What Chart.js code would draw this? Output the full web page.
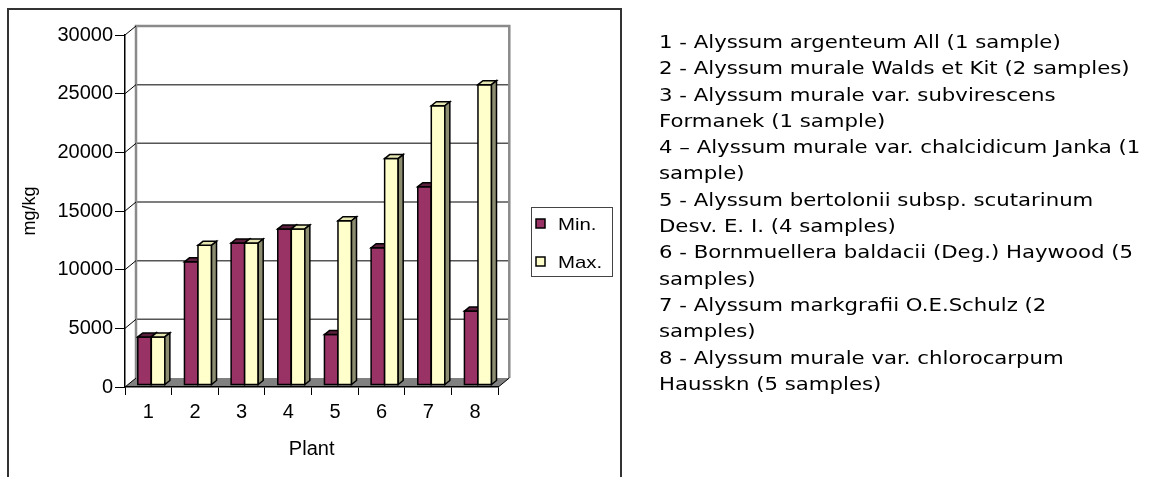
<!DOCTYPE html>
<html>
<head>
<meta charset="utf-8">
<title>Nickel content by plant</title>
<script src="https://cdn.jsdelivr.net/npm/chart.js@4/dist/chart.umd.min.js"></script>
<style>
  html, body { margin: 0; padding: 0; background: #fff; }
  #wrap { position: relative; width: 1158px; height: 477px; overflow: hidden; }
  #frame { position: absolute; left: 7px; top: 8px; width: 615px; height: 520px;
           border: 2px solid #333; box-sizing: border-box; }
  #plot { position: absolute; left: 0; top: 0; }
  #notes { position: absolute; left: 659px; top: 29px; margin: 0; padding: 0;
           font-family: "DejaVu Sans", sans-serif; font-size: 17px; line-height: 26.3px;
           color: #000; white-space: nowrap; list-style: none;
           transform: scaleX(1.25); transform-origin: 0 0; }
</style>
</head>
<body>
<div id="wrap">
  <div id="frame"></div>
  <canvas id="plot" width="1158" height="477"></canvas>
  <ul id="notes"></ul>
</div>
<script>
// Plant numbers on the category axis
const categories = ['1', '2', '3', '4', '5', '6', '7', '8'];
// Lowest and highest concentration per plant, mg/kg
const minValues = [4100, 10500, 12100, 13300, 4300, 11700, 16900, 6300];
const maxValues = [4100, 11900, 12100, 13300, 14000, 19300, 23800, 25600];
const seriesNames = ['Min.', 'Max.'];
// Value axis ticks
const yTickValues = [0, 5000, 10000, 15000, 20000, 25000, 30000];
// Key to the plant numbers (one entry per printed line)
const plantNotes = [
  '1 - Alyssum argenteum All (1 sample)',
  '2 - Alyssum murale Walds et Kit (2 samples)',
  '3 - Alyssum murale var. subvirescens',
  'Formanek (1 sample)',
  '4 \u2013 Alyssum murale var. chalcidicum Janka (1',
  'sample)',
  '5 - Alyssum bertolonii subsp. scutarinum',
  'Desv. E. I. (4 samples)',
  '6 - Bornmuellera baldacii (Deg.) Haywood (5',
  'samples)',
  '7 - Alyssum markgrafii O.E.Schulz (2',
  'samples)',
  '8 - Alyssum murale var. chlorocarpum',
  'Hausskn (5 samples)'
];

const notesEl = document.getElementById('notes');
plantNotes.forEach(t => {
  const li = document.createElement('li');
  li.textContent = t;
  notesEl.appendChild(li);
});

const FONT = '"Liberation Sans", Arial, sans-serif';
// depth of the 3-D box: back wall offset
const DEPTH_X = 11, DEPTH_Y = 9;
// bar extrusion
const BAR_X = 5, BAR_Y = 4;
// bar position inside the depth
const BAR_SHIFT_X = 3, BAR_SHIFT_Y = -2;
const faceColors = [
  { front: '#993366', top: '#5c1f3d', side: '#4a1931' },
  { front: '#ffffcc', top: '#e6e6b3', side: '#8c8c70' }
];

const box3d = {
  id: 'box3d',
  beforeDraw(chart) {
    const { ctx, chartArea: a } = chart;
    const y = chart.scales.y;
    ctx.save();
    // floor
    ctx.fillStyle = '#808080';
    ctx.beginPath();
    ctx.moveTo(a.left, a.bottom);
    ctx.lineTo(a.right, a.bottom);
    ctx.lineTo(a.right + DEPTH_X, a.bottom - DEPTH_Y);
    ctx.lineTo(a.left + DEPTH_X, a.bottom - DEPTH_Y);
    ctx.closePath();
    ctx.fill();
    // back wall gridlines
    ctx.strokeStyle = '#555';
    ctx.lineWidth = 1.5;
    yTickValues.forEach(v => {
      if (v === 0 || v === 30000) return;
      const py = y.getPixelForValue(v) - DEPTH_Y;
      ctx.beginPath();
      ctx.moveTo(a.left + DEPTH_X, py);
      ctx.lineTo(a.right + DEPTH_X, py);
      ctx.stroke();
    });
    // wall outline
    ctx.strokeStyle = '#8a8a8a';
    ctx.lineWidth = 2.5;
    ctx.beginPath();
    ctx.moveTo(a.left + DEPTH_X, a.bottom - DEPTH_Y);
    ctx.lineTo(a.left + DEPTH_X, a.top - DEPTH_Y);
    ctx.lineTo(a.right + DEPTH_X, a.top - DEPTH_Y);
    ctx.lineTo(a.right + DEPTH_X, a.bottom - DEPTH_Y);
    ctx.stroke();
    // side-wall tick connectors
    ctx.strokeStyle = '#000';
    ctx.lineWidth = 1;
    yTickValues.forEach(v => {
      const py = y.getPixelForValue(v);
      ctx.beginPath();
      ctx.moveTo(a.left, py);
      ctx.lineTo(a.left + DEPTH_X, py - DEPTH_Y);
      ctx.stroke();
    });
    ctx.beginPath();
    ctx.moveTo(a.right, a.bottom);
    ctx.lineTo(a.right + DEPTH_X, a.bottom - DEPTH_Y);
    ctx.stroke();
    ctx.restore();
  },
  beforeDatasetsDraw(chart) {
    const { ctx } = chart;
    const metas = [chart.getDatasetMeta(0), chart.getDatasetMeta(1)];
    ctx.save();
    ctx.translate(BAR_SHIFT_X, BAR_SHIFT_Y);
    ctx.lineJoin = 'miter';
    ctx.strokeStyle = '#000';
    ctx.lineWidth = 1.5;
    for (let i = 0; i < categories.length; i++) {
      metas.forEach((meta, d) => {
        const el = meta.data[i];
        const { x, y, base, width } = el.getProps(['x', 'y', 'base', 'width'], true);
        const l = x - width / 2, r = x + width / 2;
        const c = faceColors[d];
        // front face
        ctx.fillStyle = c.front;
        ctx.beginPath();
        ctx.rect(l, y, r - l, base - y);
        ctx.fill();
        ctx.stroke();
        // top face
        ctx.fillStyle = c.top;
        ctx.beginPath();
        ctx.moveTo(l, y);
        ctx.lineTo(l + BAR_X, y - BAR_Y);
        ctx.lineTo(r + BAR_X, y - BAR_Y);
        ctx.lineTo(r, y);
        ctx.closePath();
        ctx.fill();
        ctx.stroke();
        // side face
        ctx.fillStyle = c.side;
        ctx.beginPath();
        ctx.moveTo(r, y);
        ctx.lineTo(r + BAR_X, y - BAR_Y);
        ctx.lineTo(r + BAR_X, base - BAR_Y);
        ctx.lineTo(r, base);
        ctx.closePath();
        ctx.fill();
        ctx.stroke();
      });
    }
    ctx.restore();
    return false;
  },
  afterDraw(chart) {
    // series key
    const { ctx } = chart;
    ctx.save();
    ctx.strokeStyle = '#444';
    ctx.lineWidth = 1;
    ctx.strokeRect(531.5, 207.5, 81, 69);
    const rows = [224, 262];
    chart.data.datasets.forEach((ds, d) => {
      const cy = rows[d];
      ctx.fillStyle = ds.backgroundColor;
      ctx.fillRect(536, cy - 5, 9, 9);
      ctx.strokeStyle = '#000';
      ctx.lineWidth = 1.5;
      ctx.strokeRect(536, cy - 5, 9, 9);
      ctx.save();
      ctx.translate(558, cy);
      ctx.scale(1.2, 1);
      ctx.fillStyle = '#000';
      ctx.font = '17px ' + FONT;
      ctx.textBaseline = 'middle';
      ctx.fillText(ds.label, 0, 1);
      ctx.restore();
    });
    ctx.restore();
  }
};

new Chart(document.getElementById('plot'), {
  type: 'bar',
  data: {
    labels: categories,
    datasets: [
      { label: seriesNames[0], data: minValues, backgroundColor: faceColors[0].front,
        borderColor: '#000', borderWidth: 1.5 },
      { label: seriesNames[1], data: maxValues, backgroundColor: faceColors[1].front,
        borderColor: '#000', borderWidth: 1.5 }
    ]
  },
  options: {
    responsive: false,
    animation: false,
    events: [],
    categoryPercentage: 0.58,
    barPercentage: 1.0,
    layout: { padding: { left: 0, top: 35, right: 1158 - 498.3, bottom: 0 } },
    plugins: { legend: { display: false }, tooltip: { enabled: false } },
    scales: {
      x: {
        grid: { offset: true, drawOnChartArea: false, drawTicks: true, tickLength: 8,
                color: '#000', lineWidth: 1 },
        border: { display: true, color: '#000', width: 1.5 },
        ticks: { color: '#000', font: { family: FONT, size: 20 }, padding: 5, maxRotation: 0 },
        title: { display: true, text: 'Plant', color: '#000',
                 font: { family: FONT, size: 20 }, padding: { top: 0, bottom: 16 } },
        afterFit(s) { s.height = 90; }
      },
      y: {
        min: 0, max: 30000,
        afterBuildTicks(s) { s.ticks = yTickValues.map(v => ({ value: v })); },
        grid: { drawOnChartArea: false, drawTicks: true, tickLength: 10, color: '#000', lineWidth: 1 },
        border: { display: true, color: '#000', width: 1.5 },
        ticks: { color: '#000', font: { family: FONT, size: 20 }, padding: 2,
                 callback: v => String(v) },
        title: { display: true, text: 'mg/kg', color: '#000',
                 font: { family: FONT, size: 18 }, padding: { top: 19.7, bottom: 0 } },
        afterFit(s) { s.width = 125; }
      }
    }
  },
  plugins: [box3d]
});
</script>
</body>
</html>
